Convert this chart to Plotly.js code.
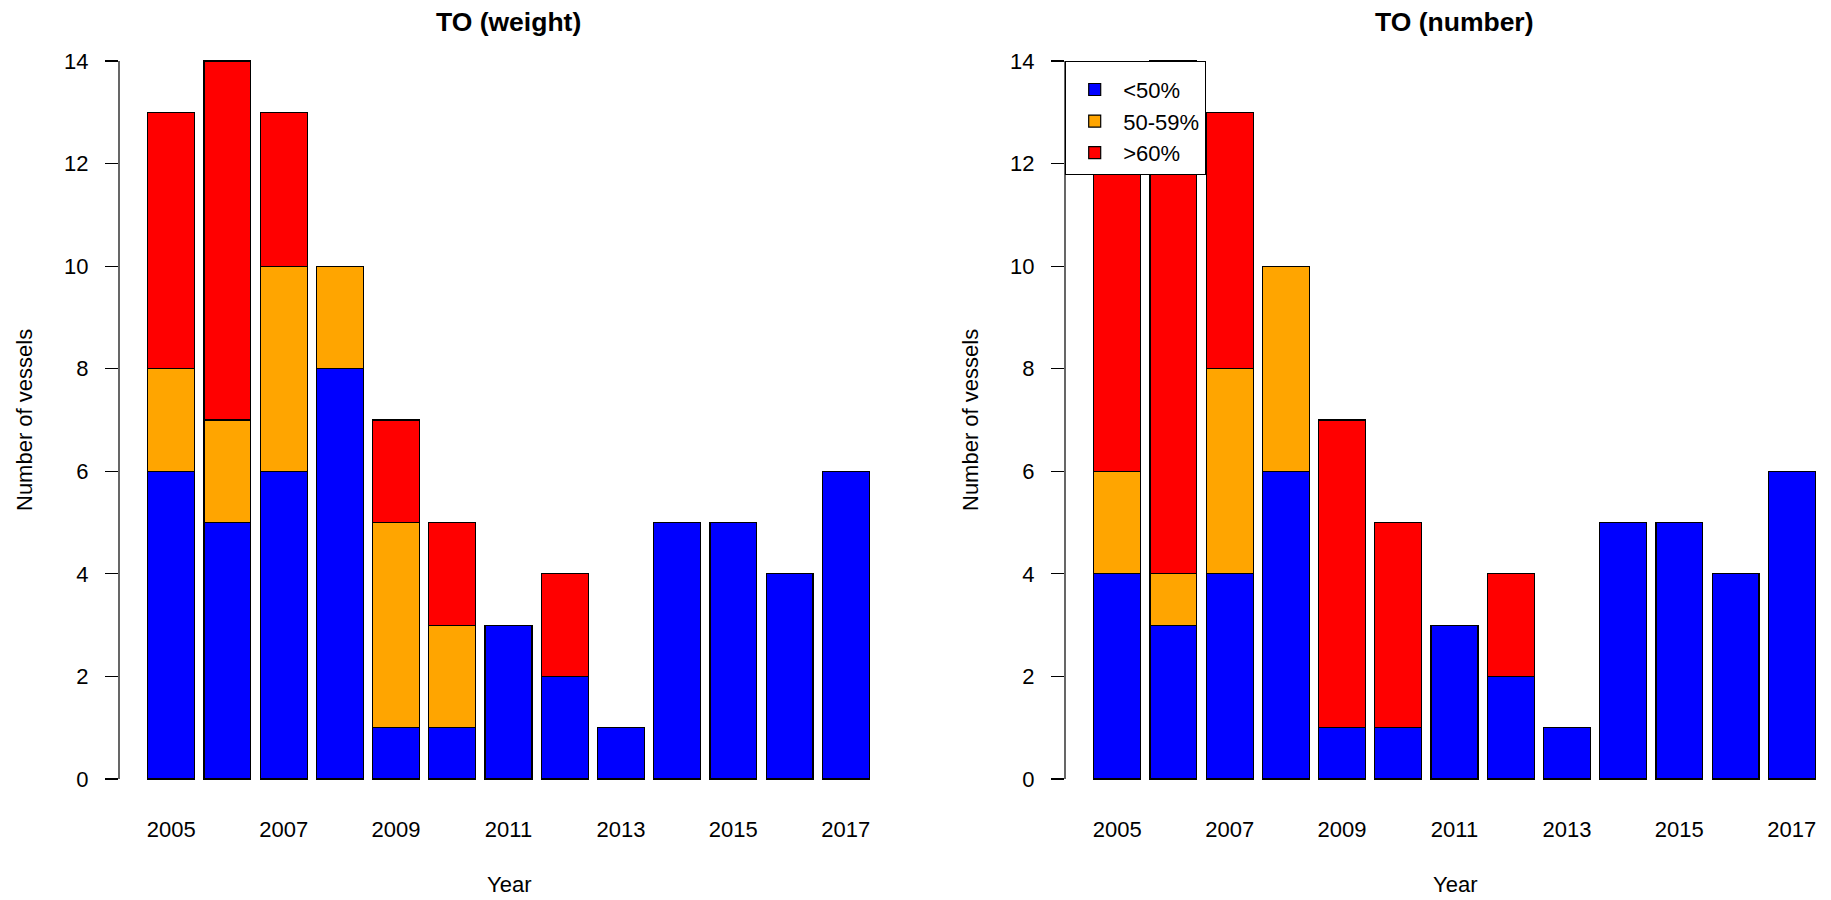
<!DOCTYPE html>
<html>
<head>
<meta charset="utf-8">
<script src="https://cdn.plot.ly/plotly-3.0.1.min.js"></script>
<style>
  html, body { margin: 0; padding: 0; background: #fff; }
  #chart { width: 1831px; height: 900px; }
</style>
</head>
<body>
<div id="chart"></div>
<script>
// ---- data ----
const years = ['2005','2006','2007','2008','2009','2010','2011','2012','2013','2014','2015','2016','2017'];
const tickYears = ['2005','2007','2009','2011','2013','2015','2017'];
const yTicks = [0, 2, 4, 6, 8, 10, 12, 14];
const seriesNames = ['<50%', '50-59%', '>60%'];
const seriesColors = ['#0000FF', '#FFA500', '#FF0000'];

const weightBlue   = [6, 5, 6, 8, 1, 1, 3, 2, 1, 5, 5, 4, 6];
const weightOrange = [2, 2, 4, 2, 4, 2, 0, 0, 0, 0, 0, 0, 0];
const weightRed    = [5, 7, 3, 0, 2, 2, 0, 2, 0, 0, 0, 0, 0];

const numberBlue   = [4, 3, 4, 6, 1, 1, 3, 2, 1, 5, 5, 4, 6];
const numberOrange = [2, 1, 4, 4, 0, 0, 0, 0, 0, 0, 0, 0, 0];
const numberRed    = [7, 10, 5, 0, 6, 4, 0, 2, 0, 0, 0, 0, 0];

const panelTitles = ['TO (weight)', 'TO (number)'];
const xTitle = 'Year';
const yTitle = 'Number of vessels';

// ---- build ----
const W = 1831, H = 900;
const FONT = '"Liberation Sans", Arial, sans-serif';
const panels = [
  {data: [weightBlue, weightOrange, weightRed], xa: 'x', ya: 'y', legend: false},
  {data: [numberBlue, numberOrange, numberRed], xa: 'x2', ya: 'y2', legend: true}
];

const traces = [];
panels.forEach(p => {
  p.data.forEach((vals, k) => {
    traces.push({
      type: 'bar',
      x: years,
      y: vals,
      name: seriesNames[k],
      xaxis: p.xa,
      yaxis: p.ya,
      showlegend: p.legend,
      marker: {color: seriesColors[k], line: {color: '#000', width: 1.2}},
      hoverinfo: 'skip'
    });
  });
});

// pixel geometry of R plot regions
const leftX0 = 119, leftX1 = 898;
const rightX0 = 1065, rightX1 = 1844; // extends beyond the cropped image
const yTop = 32.3, yBot = 807.7;
const catPx = (leftX1 - leftX0) / 13.86;
const xr0 = -0.93;

function xaxisDef(x0, x1) {
  const visibleEnd = Math.min(x1, W);
  return {
    domain: [x0 / W, visibleEnd / W],
    range: [xr0, xr0 + (visibleEnd - x0) / catPx],
    type: 'category',
    showline: false, showgrid: false, zeroline: false,
    tickmode: 'array', tickvals: tickYears, ticktext: tickYears,
    ticks: 'outside', ticklen: 2, tickcolor: 'rgba(0,0,0,0)',
    tickfont: {family: FONT, size: 22, color: '#000'},
    fixedrange: true
  };
}
function yaxisDef(anchor) {
  return {
    domain: [1 - yBot / H, 1 - yTop / H],
    range: [-0.56, 14.56],
    anchor: anchor,
    showline: false, showgrid: false, zeroline: false,
    tickmode: 'array', tickvals: yTicks, ticktext: yTicks.map(String),
    ticks: 'outside', ticklen: 13, tickwidth: 1.2, tickcolor: '#000',
    ticklabelstandoff: 12,
    tickfont: {family: FONT, size: 22, color: '#000'},
    fixedrange: true
  };
}

const shapes = [
  {type: 'line', xref: 'x domain', yref: 'y', x0: 0, x1: 0,
   y0: Math.min(...yTicks), y1: Math.max(...yTicks), line: {color: '#000', width: 1.2}},
  {type: 'line', xref: 'x2 domain', yref: 'y2', x0: 0, x1: 0,
   y0: Math.min(...yTicks), y1: Math.max(...yTicks), line: {color: '#000', width: 1.2}}
];

const centers = [(leftX0 + leftX1) / 2, (rightX0 + rightX1) / 2];
const yTitleX = [24, 24 + (rightX0 - leftX0)];
const annotations = [];
centers.forEach((cx, i) => {
  annotations.push({
    text: '<b>' + panelTitles[i] + '</b>', xref: 'paper', yref: 'paper',
    x: cx / W, y: 1 - 22 / H, xanchor: 'center', yanchor: 'middle', showarrow: false,
    font: {family: FONT, size: 26.5, color: '#000'}
  });
  annotations.push({
    text: xTitle, xref: 'paper', yref: 'paper',
    x: cx / W, y: 1 - 884 / H, xanchor: 'center', yanchor: 'middle', showarrow: false,
    font: {family: FONT, size: 22, color: '#000'}
  });
  annotations.push({
    text: yTitle, xref: 'paper', yref: 'paper', textangle: -90,
    x: yTitleX[i] / W, y: 1 - ((yTop + yBot) / 2) / H, xanchor: 'center', yanchor: 'middle', showarrow: false,
    font: {family: FONT, size: 22, color: '#000'}
  });
});

const layout = {
  width: W, height: H,
  margin: {l: 0, r: 0, t: 0, b: 0},
  paper_bgcolor: '#fff', plot_bgcolor: 'rgba(0,0,0,0)',
  barmode: 'stack',
  bargap: 1 / 6,
  showlegend: true,
  legend: {
    x: rightX0 / W, y: 1 - 61 / H, xanchor: 'left', yanchor: 'top',
    bgcolor: '#fff', bordercolor: '#000', borderwidth: 1.2,
    traceorder: 'normal',
    itemwidth: 47,
    title: {text: '\u00a0', font: {family: FONT, size: 5}},
    font: {family: FONT, size: 22, color: '#000'},
    itemclick: false, itemdoubleclick: false
  },
  xaxis: xaxisDef(leftX0, leftX1),
  yaxis: yaxisDef('x'),
  xaxis2: Object.assign(xaxisDef(rightX0, rightX1), {anchor: 'y2'}),
  yaxis2: yaxisDef('x2'),
  shapes: shapes,
  annotations: annotations,
  font: {family: FONT, color: '#000'}
};
layout.xaxis.anchor = 'y';

Plotly.newPlot('chart', traces, layout, {displayModeBar: false, staticPlot: true});
</script>
</body>
</html>
